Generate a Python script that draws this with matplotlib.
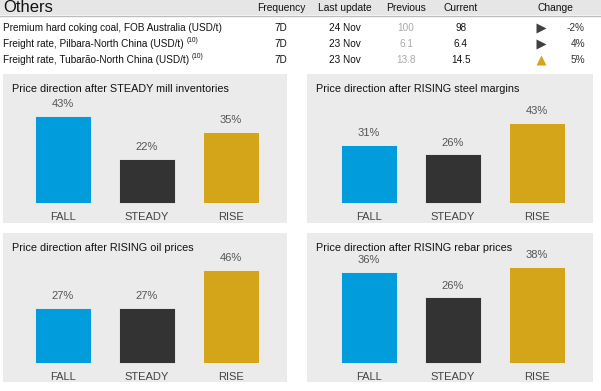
import matplotlib
matplotlib.use('Agg')
import matplotlib.pyplot as plt
from matplotlib.patches import Rectangle

plt.rcParams['font.family'] = ['Liberation Sans', 'DejaVu Sans']

# ---- table data
row_names = ['Premium hard coking coal, FOB Australia (USD/t)',
             'Freight rate, Pilbara-North China (USD/t)',
             'Freight rate, Tubarão-North China (USD/t)']
row_notes = ['', '(10)', '(10)']
frequency = ['7D', '7D', '7D']
last_update = ['24 Nov', '23 Nov', '23 Nov']
previous = ['100', '6.1', '13.8']
current = ['98', '6.4', '14.5']
change = ['-2%', '4%', '5%']
direction = ['flat', 'flat', 'up']
col_heads = ['Frequency', 'Last update', 'Previous', 'Current', 'Change']

# ---- panel data
categories = ['FALL', 'STEADY', 'RISE']
titles = ['Price direction after STEADY mill inventories',
          'Price direction after RISING steel margins',
          'Price direction after RISING oil prices',
          'Price direction after RISING rebar prices']
steady_mill = [43, 22, 35]
rising_margins = [31, 26, 43]
rising_oil = [27, 27, 46]
rising_rebar = [36, 26, 38]
panel_values = [steady_mill, rising_margins, rising_oil, rising_rebar]

bar_colors = ['#009cdc', '#333333', '#d4a519']
panel_bg = '#ebebeb'
W, H = 601, 391
FS = 7.2

fig = plt.figure(figsize=(W / 100, H / 100), dpi=100)
base = fig.add_axes([0, 0, 1, 1])
base.set_xlim(0, W)
base.set_ylim(H, 0)
base.axis('off')

# header band
base.add_patch(Rectangle((0, 0), W, 15, facecolor='#e6e6e6', edgecolor='none'))
base.plot([0, W], [15.5, 15.5], color='#bdbdbd', lw=1)
base.text(3, 8, 'Others', fontsize=12, va='center', ha='left', color='#111111')
col_x = [281, 345, 406, 461, 555]
for x, h in zip(col_x, col_heads):
    base.text(x, 8, h, fontsize=7.4, va='center', ha='center', color='#111111')

row_y = [28, 44, 60]
renderer = fig.canvas.get_renderer()
for i in range(len(row_names)):
    y = row_y[i]
    t = base.text(3, y, row_names[i], fontsize=FS, va='center', ha='left', color='#111111')
    if row_notes[i]:
        bb = t.get_window_extent(renderer)
        xr = bb.x1 * W / fig.bbox.width
        base.text(xr + 3, y - 4, row_notes[i], fontsize=4.8, va='center', ha='left', color='#111111')
    base.text(col_x[0], y, frequency[i], fontsize=FS, va='center', ha='center', color='#111111')
    base.text(col_x[1], y, last_update[i], fontsize=FS, va='center', ha='center', color='#111111')
    base.text(col_x[2], y, previous[i], fontsize=FS, va='center', ha='center', color='#aaaaaa')
    base.text(col_x[3], y, current[i], fontsize=FS, va='center', ha='center', color='#111111')
    if direction[i] == 'up':
        base.plot(541, y, marker='^', ms=7, color='#d4a519', mec='none')
    else:
        base.plot(541, y, marker='>', ms=7, color='#404040', mec='none')
    base.text(585, y, change[i], fontsize=FS, va='center', ha='right', color='#333333')

# panels: (left, top, right, bottom) in pixels, baseline px, px per %, first bar centre offset
panels = [
    ((3, 74, 287, 223), 203, 2.02, 60),
    ((307, 74, 593, 223), 203, 1.87, 62),
    ((3, 233, 287, 382), 363, 2.03, 60),
    ((307, 233, 593, 382), 363, 2.52, 62),
]
step, bw = 84, 56
for k, ((l, t, r, b), base_y, ppu, c0) in enumerate(panels):
    ax = fig.add_axes([l / W, 1 - b / H, (r - l) / W, (b - t) / H])
    ax.set_facecolor(panel_bg)
    for s in ax.spines.values():
        s.set_visible(False)
    ax.set_xticks([])
    ax.set_yticks([])
    ax.set_xlim(-c0 / step, -c0 / step + (r - l) / step)
    ax.set_ylim(-(b - base_y) / ppu, (base_y - t) / ppu)
    vals = panel_values[k]
    xs = range(len(categories))
    ax.bar(xs, vals, width=bw / step, color=bar_colors, edgecolor='#f2f2f2', linewidth=0.6)
    for x, v in zip(xs, vals):
        ax.annotate(f'{v}%', (x, v), xytext=(0, 8.5), textcoords='offset points',
                    ha='center', va='center', fontsize=8, color='#555555')
        ax.annotate(categories[x], (x, 0), xytext=(0, -10), textcoords='offset points',
                    ha='center', va='center', fontsize=8, color='#444444')
    ax.text(9 / (r - l), 1 - 15 / (b - t), titles[k], transform=ax.transAxes,
            fontsize=7.8, ha='left', va='center', color='#111111')

fig.savefig('out.png', dpi=100, facecolor='white')
